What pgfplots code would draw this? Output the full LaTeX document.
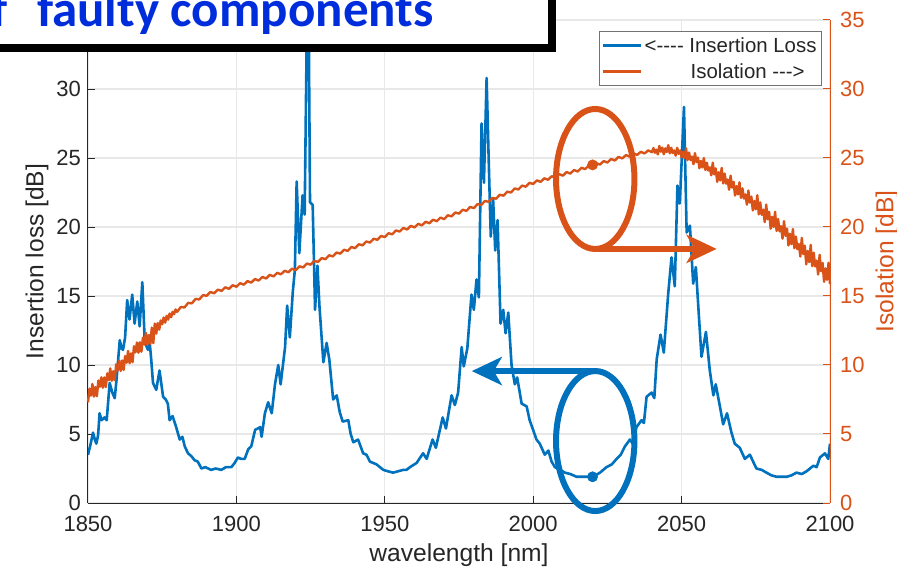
\documentclass[border=0pt]{standalone}
\usepackage{fontspec}
\setmainfont{Liberation Sans}
\newfontfamily\titlefont{Carlito}
\usepackage{pgfplots}
\pgfplotsset{compat=1.18}
\usetikzlibrary{arrows.meta}
\definecolor{mblue}{RGB}{0,114,189}
\definecolor{morange}{RGB}{217,83,25}
\definecolor{axgray}{RGB}{38,38,38}
\definecolor{gridgray}{RGB}{232,232,232}
\definecolor{titleblue}{RGB}{0,45,220}
\newcommand{\tickfont}{\fontsize{11}{13}\selectfont}
\newcommand{\labfont}{\fontsize{12.3}{14}\selectfont}
\begin{document}
\begin{tikzpicture}
\pgfplotsset{
  common/.style={
    scale only axis, width=371pt, height=241.5pt,
    xmin=1850, xmax=2100, ymin=0, ymax=35,
    xtick={1850,1900,...,2100}, ytick={0,5,...,35},
    tick align=inside, major tick length=3.7pt,
    /pgf/number format/assume math mode=true,
    /pgf/number format/1000 sep={},
    axis line style={-, line width=0.5pt},
    every tick/.style={line width=0.5pt},
  }
}
\begin{axis}[common,
  axis x line*=bottom, axis y line*=left,
  grid=major, grid style={gridgray, line width=0.6pt},
  x axis line style={axgray}, y axis line style={axgray},
  xtick style={axgray}, ytick style={axgray},
  yticklabels={0,5,10,15,20,25,30,},
  xticklabel style={font=\tickfont, text=axgray, yshift=-3pt},
  yticklabel style={font=\tickfont, text=axgray},
  xlabel={wavelength [nm]}, ylabel={Insertion loss [dB]},
  every axis x label/.style={at={(axis description cs:0.5,-0.1077)}, anchor=center, text=axgray, font=\labfont},
  every axis y label/.style={at={(axis description cs:-0.0687,0.5)}, rotate=90, anchor=center, text=axgray, font=\labfont},
]
\addplot[mblue, line width=1.3pt, line join=round] coordinates {
(1850,3.5)(1850.8,4.2)(1851.7,5.1)(1852.3,4.6)(1852.8,4.3)(1853.4,4.9)(1853.9,6.5)(1854.6,6.0)
(1855.6,6.2)(1856.3,6.0)(1857.3,8.7)(1858.2,8.0)(1859,7.6)(1859.6,8.9)(1860.7,11.8)(1861.3,11.2)
(1861.8,11.1)(1862.5,12.0)(1863.2,14.7)(1864,13.3)(1864.9,15.1)(1865.7,13)(1866.6,14.6)(1867.4,12.8)
(1868.3,16.0)(1869.1,11.8)(1869.8,11.3)(1870.2,11.1)(1870.8,11.6)(1871.3,10.4)(1871.9,8.7)(1873,8.2)
(1874.1,9.6)(1875.3,7.7)(1876.2,7.5)(1876.9,7.2)(1877.5,6.0)(1878.5,6.3)(1879.7,5.5)(1880.9,4.6)
(1881.8,4.8)(1882.6,4.1)(1883.7,3.6)(1884.8,3.4)(1885.9,3.1)(1887,3.0)(1888.2,2.5)(1889.5,2.6)
(1891.5,2.4)(1893,2.5)(1894.9,2.4)(1896.5,2.6)(1898.3,2.6)(1899.4,2.9)(1900.5,3.3)(1901.5,3.2)
(1902.8,3.2)(1904,3.9)(1905,4.1)(1906.3,5.3)(1907.2,5.4)(1908,5.5)(1908.5,4.8)(1909.6,6.5)
(1910.7,7.3)(1911.9,6.5)(1913,8.6)(1914.1,10.0)(1914.9,8.6)(1916.4,11.3)(1917.1,14.3)(1918,12.0)
(1919,15.3)(1919.7,16.9)(1920.3,23.3)(1921.2,18.1)(1922.3,22.3)(1923,20.9)(1923.7,34)(1924.4,34)
(1924.8,21.8)(1925.7,21.6)(1926.5,14.0)(1927.3,17.2)(1928,14.2)(1929.3,10.2)(1930.4,11.6)(1931.3,10.4)
(1932.6,7.5)(1933.8,7.8)(1934.8,6.6)(1935.8,5.9)(1937.7,6.0)(1938.5,5.0)(1939.4,4.4)(1941,4.6)
(1942.7,3.6)(1943.8,3.5)(1945,3.0)(1947.2,2.8)(1949.5,2.4)(1951,2.3)(1952.8,2.2)(1954.5,2.3)
(1956.2,2.4)(1957.3,2.4)(1958.5,2.6)(1960.7,2.9)(1962.9,3.6)(1964.1,3.2)(1966.1,4.6)(1967.2,4.0)
(1969.5,6.2)(1970.6,5.4)(1972.5,7.8)(1973.6,7.1)(1974.7,8.0)(1975.9,11.3)(1976.6,9.9)(1977.8,11.2)
(1979.2,15.1)(1980,14.0)(1980.9,16.2)(1981.7,14.9)(1982.6,27.5)(1983.4,23.2)(1984.3,30.8)(1985.1,24.1)
(1985.7,19.3)(1986.5,22.0)(1987.2,18.3)(1988,20.5)(1989,13.0)(1989.9,14.0)(1990.7,12.3)(1991.6,13.8)
(1992.7,10.0)(1993.8,8.6)(1994.6,9.1)(1996.1,7.2)(1997.8,7.0)(1998.8,6.0)(1999.8,5.4)(2001.1,4.6)
(2002.2,4.3)(2003.9,3.5)(2005.1,3.8)(2006.2,3.0)(2007.3,2.6)(2009,2.4)(2010.7,2.2)(2012.5,2.1)
(2014.6,1.9)(2017,1.9)(2020.2,1.9)(2022.5,2.2)(2024.7,2.6)(2026.5,2.8)(2028.1,3.2)(2029.5,3.5)
(2030.9,4.1)(2032.6,4.6)(2033.5,4.3)(2034.8,5.5)(2036.5,6.0)(2037.3,5.8)(2038.2,7.7)(2039.9,8.0)
(2040.8,7.6)(2041.6,10.4)(2042.9,12.2)(2044,10.9)(2045.5,15.2)(2046.6,17.8)(2047.7,15.7)(2048.6,23.0)
(2049.4,21.7)(2050.8,28.7)(2051.7,19.6)(2052.8,20.1)(2053.9,15.9)(2054.8,17.1)(2055.9,13.3)(2056.7,10.6)
(2058.2,12.4)(2059.5,9.6)(2060.7,7.8)(2061.5,8.6)(2062.9,7.0)(2064,5.7)(2065.3,6.5)(2066.8,5.1)
(2067.9,4.3)(2069.6,4.0)(2071.3,3.2)(2073,3.5)(2075.2,2.5)(2077,2.4)(2078.6,2.2)(2080.3,2.0)
(2082,1.9)(2085.4,1.9)(2087,2.0)(2088.7,2.2)(2090.5,2.1)(2092.1,2.3)(2094.4,2.7)(2095.5,2.6)
(2096.6,3.3)(2098.3,3.6)(2099.4,3.2)(2100,4.3)
};
\end{axis}
\begin{axis}[common,
  axis x line=none, axis y line*=right,
  y axis line style={morange}, ytick style={morange},
  yticklabel style={font=\tickfont, text=morange, xshift=1.5pt},
  ylabel={Isolation [dB]},
  every axis y label/.style={at={(axis description cs:1.0768,0.5)}, rotate=90, anchor=center, text=morange, font=\labfont},
  clip=false,
  legend cell align=left,
  legend image code/.code={\draw[#1] (0pt,0pt) -- (19pt,0pt);},
  legend style={at={(rel axis cs:0.9892,0.9772)}, anchor=north east,
    draw=black!55, line width=0.5pt, fill=white,
    font=\fontsize{10.2}{12}\selectfont, text=axgray,
    inner xsep=1.5pt, inner ysep=2.3pt, row sep=3.6pt,
    nodes={inner sep=1pt, text depth=0pt}},
]
\addlegendimage{mblue, line width=1.3pt}
\addlegendentry{<-{}-{}-{}- Insertion Loss}
\addplot[morange, line width=1.2pt, line join=round] coordinates {
(1850.0,7.30)(1850.5,8.29)(1851.0,7.78)(1851.5,8.62)(1852.0,7.71)(1852.5,8.40)(1853.0,7.74)(1853.5,8.88)
(1854.0,8.42)(1854.5,9.11)(1855.0,8.35)(1855.5,9.10)(1856.0,8.40)(1856.5,9.40)(1857.0,8.90)(1857.5,9.75)
(1858.0,8.85)(1858.5,9.55)(1859.0,8.90)(1859.5,10.05)(1860.0,9.60)(1860.5,10.31)(1861.0,9.57)(1861.5,10.33)
(1862.0,9.64)(1862.5,10.65)(1863.0,10.16)(1863.5,11.02)(1864.0,10.13)(1864.5,10.84)(1865.0,10.20)(1865.5,11.36)
(1866.0,10.92)(1866.5,11.63)(1867.0,10.89)(1867.5,11.65)(1868.0,10.96)(1868.5,11.97)(1869.0,11.48)(1869.5,12.34)
(1870.0,11.45)(1870.5,12.17)(1871.0,11.54)(1871.5,12.71)(1872.0,11.58)(1872.5,13.00)(1873.0,12.27)(1873.5,13.04)
(1874.0,12.56)(1874.5,13.23)(1875.0,12.95)(1875.5,13.44)(1876.0,13.07)(1876.5,13.56)(1877.0,13.29)(1877.5,13.73)
(1878.0,13.46)(1878.5,13.85)(1879.0,13.68)(1879.5,14.02)(1880.0,13.85)
(1881.25,14.20)(1882.5,14.17)(1883.75,14.50)(1885,14.47)(1886.25,14.79)(1887.5,14.75)(1888.75,15.06)(1890,15.02)
(1891.25,15.29)(1892.5,15.20)(1893.75,15.46)(1895,15.37)(1896.25,15.63)(1897.5,15.52)(1898.75,15.78)(1900,15.67)
(1901.25,15.93)(1902.5,15.82)(1903.75,16.08)(1905,15.97)(1906.25,16.23)(1907.5,16.12)(1908.75,16.38)(1910,16.27)
(1911.25,16.53)(1912.5,16.42)(1913.75,16.68)(1915,16.57)(1916.25,16.83)(1917.5,16.72)(1918.75,16.98)(1920,16.87)
(1921.25,17.15)(1922.5,17.07)(1923.75,17.35)(1925,17.27)(1926.25,17.55)(1927.5,17.47)(1928.75,17.75)(1930,17.67)
(1931.25,17.95)(1932.5,17.87)(1933.75,18.15)(1935,18.07)(1936.25,18.35)(1937.5,18.27)(1938.75,18.55)(1940,18.47)
(1941.25,18.75)(1942.5,18.67)(1943.75,18.95)(1945,18.87)(1946.25,19.15)(1947.5,19.07)(1948.75,19.35)(1950,19.27)
(1951.25,19.55)(1952.5,19.47)(1953.75,19.75)(1955,19.67)(1956.25,19.93)(1957.5,19.82)(1958.75,20.08)(1960,19.97)
(1961.25,20.23)(1962.5,20.12)(1963.75,20.38)(1965,20.27)(1966.25,20.53)(1967.5,20.42)(1968.75,20.68)(1970,20.57)
(1971.25,20.85)(1972.5,20.77)(1973.75,21.05)(1975,20.97)(1976.25,21.25)(1977.5,21.17)(1978.75,21.45)(1980,21.37)
(1981.25,21.66)(1982.5,21.60)(1983.75,21.89)(1985,21.82)(1986.25,22.11)(1987.5,22.05)(1988.75,22.34)(1990,22.27)
(1991.25,22.56)(1992.5,22.50)(1993.75,22.79)(1995,22.72)(1996.25,23.00)(1997.5,22.92)(1998.75,23.20)(2000,23.12)
(2001.25,23.38)(2002.5,23.27)(2003.75,23.53)(2005,23.42)(2006.25,23.68)(2007.5,23.57)(2008.75,23.83)(2010,23.72)
(2011.25,23.98)(2012.5,23.87)(2013.75,24.13)(2015,24.02)(2016.25,24.29)(2017.5,24.20)(2018.75,24.46)(2020,24.37)
(2021.25,24.63)(2022.5,24.52)(2023.75,24.78)(2025,24.67)(2026.25,24.93)(2027.5,24.82)(2028.75,25.08)(2030,24.97)
(2031.25,25.21)(2032.5,25.10)(2033.75,25.34)(2035,25.22)(2036.25,25.45)(2037.5,25.33)(2038.75,25.55)(2040,25.42)
(2040.5,25.72)(2041.0,25.38)(2041.5,25.60)(2042.0,25.26)(2042.5,25.87)(2043.0,25.46)(2043.5,25.75)(2044.0,25.27)
(2044.5,25.70)(2045.0,25.43)(2045.5,25.93)(2046.0,25.34)(2046.5,25.74)(2047.0,25.36)(2047.5,25.55)(2048.0,25.17)
(2048.5,25.74)(2049.0,25.30)(2049.5,25.55)(2050.0,25.04)(2050.5,25.45)(2051.0,25.00)(2051.5,25.70)(2052.0,24.85)
(2052.5,25.40)(2053.0,24.85)(2053.5,25.10)(2054.0,24.55)(2054.5,25.35)(2055.0,24.70)(2055.5,25.03)(2056.0,24.26)
(2056.5,24.79)(2057.0,24.32)(2057.5,25.00)(2058.0,24.13)(2058.5,24.66)(2059.0,24.09)(2059.5,24.32)(2060.0,23.75)
(2060.5,24.66)(2061.0,23.81)(2061.5,24.25)(2062.0,23.27)(2062.5,23.97)(2063.0,23.38)(2063.5,24.28)(2064.0,23.16)
(2064.5,23.87)(2065.0,23.14)(2065.5,23.44)(2066.0,22.70)(2066.5,23.72)(2067.0,22.85)(2067.5,23.28)(2068.0,22.28)
(2068.5,22.97)(2069.0,22.36)(2069.5,23.24)(2070.0,22.11)(2070.5,22.80)(2071.0,22.06)(2071.5,22.36)(2072.0,21.62)
(2072.5,22.64)(2073.0,21.77)(2073.5,22.20)(2074.0,21.20)(2074.5,21.89)(2075.0,21.28)(2075.5,22.30)(2076.0,20.92)
(2076.5,21.78)(2077.0,20.88)(2077.5,21.26)(2078.0,20.36)(2078.5,21.62)(2079.0,20.56)(2079.5,21.10)(2080.0,19.88)
(2080.5,20.74)(2081.0,20.00)(2081.5,21.10)(2082.0,19.72)(2082.5,20.58)(2083.0,19.68)(2083.5,20.06)(2084.0,19.16)
(2084.5,20.42)(2085.0,19.36)(2085.5,19.89)(2086.0,18.66)(2086.5,19.51)(2087.0,18.76)(2087.5,19.85)(2088.0,18.46)
(2088.5,19.31)(2089.0,18.40)(2089.5,18.77)(2090.0,17.86)(2090.5,19.21)(2091.0,18.03)(2091.5,18.65)(2092.0,17.29)
(2092.5,18.27)(2093.0,17.45)(2093.5,18.70)(2094.0,17.16)(2094.5,18.14)(2095.0,17.14)(2095.5,17.57)(2096.0,16.56)
(2096.5,17.98)(2097.0,16.79)(2097.5,17.40)(2098.0,16.03)(2098.5,17.00)(2099.0,16.17)(2099.5,17.41)(2100.0,15.86)
};
\addlegendentry{\hspace*{23pt}Isolation -{}-{}->}
\addplot[forget plot, only marks, mark=*, mark size=2.5pt, morange] coordinates {(2020,24.5)};
\addplot[forget plot, only marks, mark=*, mark size=2.5pt, mblue] coordinates {(2020,1.9)};
\draw[morange, line width=3pt] (axis cs:2020.9,23.48) ellipse [x radius=19.6pt, y radius=35pt];
\draw[morange, line width=3pt, -{Stealth[length=15pt, width=14pt, inset=4pt]}] (axis cs:2020.9,18.41) -- (axis cs:2061.8,18.41);
\draw[mblue, line width=3pt] (axis cs:2020.9,4.49) ellipse [x radius=19.6pt, y radius=35pt];
\draw[mblue, line width=3pt, -{Stealth[length=15pt, width=14pt, inset=4pt]}] (axis cs:2020.9,9.56) -- (axis cs:1979.3,9.56);
\end{axis}
\draw[line width=4pt, fill=white] (-150pt,227.5pt) rectangle (232pt,300pt);
\node[anchor=base east, inner sep=0pt, text=titleblue, font=\titlefont\bfseries\fontsize{25.5}{30}\selectfont] at (173pt,238pt) {Measurement of\hspace{9pt} faulty components};
\pgfresetboundingbox
\useasboundingbox (-44pt,-34.5pt) rectangle (404.5pt,251.5pt);
\end{tikzpicture}
\end{document}
